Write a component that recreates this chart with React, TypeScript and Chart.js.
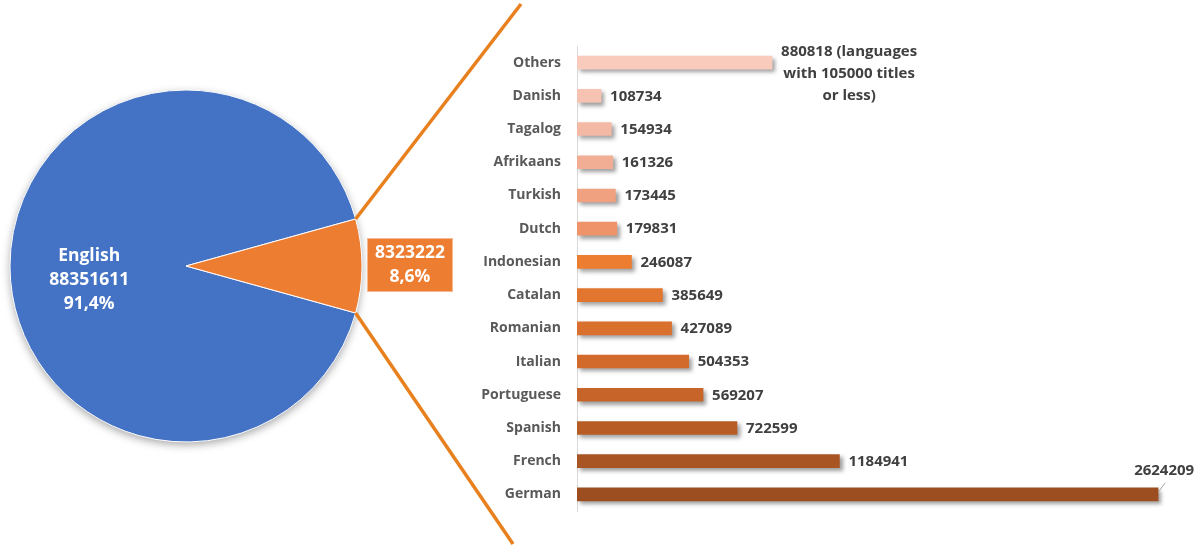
import React, { useEffect, useRef } from "react";
import { Chart, registerables } from "chart.js";

Chart.register(...registerables);

const FONT = '"Open Sans", "Noto Sans", sans-serif';

// ---- Pie data ----
const pieLabels = ["English", "Other languages"];
const pieValues = [88351611, 8323222];
const pieColors = ["#4472C4", "#ED7D31"];

// ---- Bar data (breakdown of the "other languages" slice) ----
const barCategories = [
  "Others", "Danish", "Tagalog", "Afrikaans", "Turkish", "Dutch", "Indonesian",
  "Catalan", "Romanian", "Italian", "Portuguese", "Spanish", "French", "German",
];
const barValues = [
  880818, 108734, 154934, 161326, 173445, 179831, 246087,
  385649, 427089, 504353, 569207, 722599, 1184941, 2624209,
];
const barColors = [
  "#F8CBBD", "#F6C3B2", "#F4B9A4", "#F2AE94", "#F0A17F", "#EE936A", "#ED7D31",
  "#E3762F", "#DA702D", "#D16A2B", "#C76429", "#B85C26", "#A95423", "#9C4E20",
];
const othersNote = ["(languages", "with 105000 titles", "or less)"];
const barAxisMax = 2750000;

const pct = (v: number, total: number) =>
  (Math.round((v / total) * 1000) / 10).toFixed(1).replace(".", ",") + "%";

export default function App() {
  const pieRef = useRef<HTMLCanvasElement | null>(null);
  const barRef = useRef<HTMLCanvasElement | null>(null);

  useEffect(() => {
    const total = pieValues.reduce((a, b) => a + b, 0);

    const pieDecor = {
      id: "pieDecor",
      beforeDatasetsDraw(chart: any) {
        const ctx = chart.ctx;
        const a = chart.getDatasetMeta(0).data[0];
        ctx.save();
        ctx.shadowColor = "rgba(0,0,0,0.35)";
        ctx.shadowBlur = 8;
        ctx.shadowOffsetY = 3;
        ctx.beginPath();
        ctx.arc(a.x, a.y, a.outerRadius, 0, Math.PI * 2);
        ctx.fillStyle = pieColors[0];
        ctx.fill();
        ctx.restore();
      },
      afterDatasetsDraw(chart: any) {
        const ctx = chart.ctx;
        const meta = chart.getDatasetMeta(0);
        const eng = meta.data[0];
        const oth = meta.data[1];
        const cx = oth.x;
        const cy = oth.y;
        const R = oth.outerRadius;

        // connector lines
        ctx.save();
        ctx.strokeStyle = "#E8801E";
        ctx.lineWidth = 3.5;
        ctx.lineCap = "butt";
        const p1x = cx + Math.cos(oth.startAngle) * R;
        const p1y = cy + Math.sin(oth.startAngle) * R;
        const p2x = cx + Math.cos(oth.endAngle) * R;
        const p2y = cy + Math.sin(oth.endAngle) * R;
        ctx.beginPath();
        ctx.moveTo(p1x, p1y);
        ctx.lineTo(521, 4);
        ctx.stroke();
        ctx.beginPath();
        ctx.moveTo(p2x, p2y);
        ctx.lineTo(513, 544);
        ctx.stroke();
        ctx.restore();

        // English label
        ctx.save();
        ctx.fillStyle = "#FFFFFF";
        ctx.font = `bold 17.5px ${FONT}`;
        ctx.textAlign = "center";
        ctx.textBaseline = "middle";
        const mid = (eng.startAngle + eng.endAngle) / 2;
        const lx = eng.x + Math.cos(mid) * R * 0.55;
        const ly = eng.y + 14;
        ctx.fillText(pieLabels[0], lx, ly - 24);
        ctx.fillText(String(pieValues[0]), lx, ly);
        ctx.fillText(pct(pieValues[0], total), lx, ly + 24);
        ctx.restore();

        // Other label box
        ctx.save();
        const bx = cx + R + 5;
        const by = cy - 28;
        const bw = 86;
        const bh = 54;
        ctx.fillStyle = pieColors[1];
        ctx.fillRect(bx, by, bw, bh);
        ctx.strokeStyle = "#F6B98F";
        ctx.lineWidth = 1;
        ctx.strokeRect(bx + 0.5, by + 0.5, bw - 1, bh - 1);
        ctx.fillStyle = "#FFFFFF";
        ctx.font = `bold 17.5px ${FONT}`;
        ctx.textAlign = "center";
        ctx.textBaseline = "middle";
        ctx.fillText(String(pieValues[1]), bx + bw / 2, by + bh / 2 - 12);
        ctx.fillText(pct(pieValues[1], total), bx + bw / 2, by + bh / 2 + 12);
        ctx.restore();
      },
    };

    const pie = new Chart(pieRef.current as HTMLCanvasElement, {
      type: "pie",
      data: {
        labels: pieLabels,
        datasets: [
          {
            data: pieValues,
            backgroundColor: pieColors,
            borderColor: "#FFFFFF",
            borderWidth: 1,
          },
        ],
      },
      options: {
        responsive: false,
        animation: false,
        rotation: 90 + (180 * pieValues[1]) / total,
        layout: { padding: { left: 9.5, top: 89.5, right: 837.5, bottom: 104.5 } },
        plugins: { legend: { display: false }, tooltip: { enabled: false } },
      },
      plugins: [pieDecor],
    } as any);

    const barShadow = {
      id: "barShadow",
      beforeDatasetsDraw(chart: any) {
        const ctx = chart.ctx;
        ctx.save();
        ctx.shadowColor = "rgba(0,0,0,0.38)";
        ctx.shadowBlur = 4;
        ctx.shadowOffsetX = 3;
        ctx.shadowOffsetY = 3;
      },
      afterDatasetsDraw(chart: any) {
        chart.ctx.restore();
      },
    };

    const barLabels = {
      id: "barLabels",
      afterDraw(chart: any) {
        const ctx = chart.ctx;
        const meta = chart.getDatasetMeta(0);
        ctx.save();
        ctx.fillStyle = "#404040";
        ctx.font = `bold 15px ${FONT}`;
        ctx.textBaseline = "middle";
        meta.data.forEach((bar: any, i: number) => {
          const v = barValues[i];
          const x = bar.x;
          const y = bar.y + 0.5;
          if (i === 0) {
            const lines = [`${v} ${othersNote[0]}`, othersNote[1], othersNote[2]];
            const W = Math.max(...lines.map((l) => ctx.measureText(l).width));
            const ccx = x + 9 + W / 2;
            ctx.textAlign = "center";
            lines.forEach((l, k) => ctx.fillText(l, ccx, y - 11 + k * 22));
            return;
          }
          const txt = String(v);
          const w = ctx.measureText(txt).width;
          if (x + 9 + w > chart.width - 4) {
            ctx.textAlign = "left";
            ctx.fillText(txt, x - 24, y - 24);
            ctx.save();
            ctx.strokeStyle = "#A6A6A6";
            ctx.lineWidth = 1;
            ctx.beginPath();
            ctx.moveTo(x + 7, y - 12);
            ctx.lineTo(x + 1, y - 4);
            ctx.stroke();
            ctx.restore();
          } else {
            ctx.textAlign = "left";
            ctx.fillText(txt, x + 9, y);
          }
        });
        ctx.restore();
      },
    };

    const bar = new Chart(barRef.current as HTMLCanvasElement, {
      type: "bar",
      data: {
        labels: barCategories,
        datasets: [
          {
            data: barValues,
            backgroundColor: barColors,
            borderWidth: 0,
            barThickness: 13,
          },
        ],
      },
      options: {
        indexAxis: "y",
        responsive: false,
        animation: false,
        layout: { padding: { top: 46, bottom: 36, right: 14, left: 0 } },
        plugins: { legend: { display: false }, tooltip: { enabled: false } },
        scales: {
          x: { display: false, min: 0, max: barAxisMax },
          y: {
            afterFit: (s: any) => {
              s.width = 577;
            },
            grid: { display: true, color: "transparent", drawTicks: false },
            border: { display: true, color: "#D9D9D9", width: 1 },
            ticks: {
              padding: 16,
              color: "#595959",
              font: { size: 14, weight: "bold", family: FONT },
            },
          },
        },
      },
      plugins: [barShadow, barLabels],
    } as any);

    return () => {
      pie.destroy();
      bar.destroy();
    };
  }, []);

  return (
    <div style={{ position: "absolute", left: 0, top: 0, width: 1200, height: 547, background: "#FFFFFF" }}>
      <canvas ref={pieRef} width={1200} height={547} style={{ position: "absolute", left: 0, top: 0 }} />
      <canvas ref={barRef} width={1200} height={547} style={{ position: "absolute", left: 0, top: 0 }} />
    </div>
  );
}
